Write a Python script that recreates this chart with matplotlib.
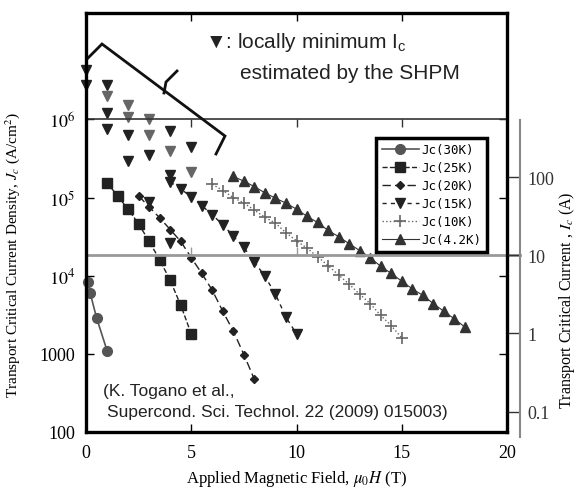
import numpy as np
import matplotlib
matplotlib.use('Agg')
import matplotlib.pyplot as plt

plt.rcParams['mathtext.fontset'] = 'stix'
serif = 'Liberation Serif'
sans = ['Liberation Sans', 'DejaVu Sans']

# values: field (T) and Jc (A/cm2)
b30 = [0.1, 0.2, 0.5, 1.0]
jc30 = [8300, 6000, 2900, 1100]

b25 = [1.0, 1.5, 2.0, 2.5, 3.0, 3.5, 4.0, 4.5, 5.0]
jc25 = [1.55e5, 1.05e5, 7.1e4, 4.6e4, 2.75e4, 1.6e4, 8.7e3, 4.2e3, 1.8e3]

b20 = [2.5, 3.0, 3.5, 4.0, 4.5, 5.0, 5.5, 6.0, 6.5, 7.0, 7.5, 8.0]
jc20 = [1.05e5, 7.6e4, 5.5e4, 3.9e4, 2.75e4, 1.7e4, 1.07e4, 6.5e3, 3.5e3, 1.95e3, 980, 470]

b15 = [4.0, 4.5, 5.0, 5.5, 6.0, 6.5, 7.0, 7.5, 8.0, 8.5, 9.0, 9.5, 10.0]
jc15 = [1.58e5, 1.29e5, 1.02e5, 7.9e4, 6.0e4, 4.5e4, 3.2e4, 2.3e4, 1.5e4, 9.8e3, 5.8e3, 2.95e3, 1.8e3]

b10 = [6.0, 6.5, 7.0, 7.5, 8.0, 8.5, 9.0, 9.5, 10.0, 10.5, 11.0, 11.5, 12.0, 12.5,
       13.0, 13.5, 14.0, 14.5, 15.0]
jc10 = [1.48e5, 1.23e5, 1.0e5, 8.5e4, 6.9e4, 5.6e4, 4.7e4, 3.55e4, 2.8e4, 2.25e4, 1.75e4,
        1.35e4, 1.02e4, 7.8e3, 5.8e3, 4.4e3, 3.1e3, 2.3e3, 1.6e3]

b4 = [7.0, 7.5, 8.0, 8.5, 9.0, 9.5, 10.0, 10.5, 11.0, 11.5, 12.0, 12.5, 13.0, 13.5,
      14.0, 14.5, 15.0, 15.5, 16.0, 16.5, 17.0, 17.5, 18.0]
jc4 = [1.86e5, 1.62e5, 1.38e5, 1.15e5, 9.8e4, 8.5e4, 7.1e4, 5.75e4, 4.8e4, 3.8e4, 3.16e4,
       2.57e4, 2.1e4, 1.7e4, 1.32e4, 1.07e4, 8.5e3, 6.8e3, 5.6e3, 4.4e3, 3.5e3, 2.8e3, 2.2e3]

# locally minimum Ic (SHPM), dark and grey triangles
bmin_dark = [0, 0, 1, 1, 1, 2, 2, 3, 3, 4, 4, 4, 5]
jmin_dark = [4.3e6, 2.75e6, 2.75e6, 1.2e6, 7.6e5, 6.3e5, 2.9e5, 3.5e5, 8.7e4, 7.1e5, 1.95e5, 2.6e4, 4.5e5]
bmin_grey = [1, 2, 2, 3, 3, 4, 5]
jmin_grey = [2.0e6, 1.55e6, 1.07e6, 1.0e6, 6.3e5, 3.9e5, 2.1e5]

jc_per_amp = 1860.0   # Jc / Ic conversion of the right axis
ytick_vals = [100, 1000, 1e4, 1e5, 1e6]
ytick_text = ['100', '1000', r'$10^4$', r'$10^5$', r'$10^6$']
ic_ticks = [0.1, 1, 10, 100]
ic_text = ['0.1', '1', '10', '100']

W, H = 584, 489
fig = plt.figure(figsize=(W / 100, H / 100), dpi=100)
L, R, T, B = 86, 507, 14, 433
ax = fig.add_axes([L / W, 1 - B / H, (R - L) / W, (B - T) / H])
ymin, ymax = 100, 2.3e7
ax.set_yscale('log')
ax.set_xlim(0, 20)
ax.set_ylim(ymin, ymax)

ax.plot(b30, jc30, '-', color='#555555', lw=1.2, marker='o', ms=7, label='Jc(30K)', clip_on=False)
ax.plot(b25, jc25, '--', color='#222222', lw=1, marker='s', ms=7.5, label='Jc(25K)')
ax.plot(b20, jc20, '--', color='#222222', lw=1, dashes=(6, 3), marker='D', ms=4.5, label='Jc(20K)')
ax.plot(b15, jc15, '--', color='#222222', lw=1, dashes=(3, 3), marker='v', ms=6.5, label='Jc(15K)')
ax.plot(b10, jc10, ':', color='#666666', lw=1, marker='+', ms=8, mew=1.2, label='Jc(10K)')
ax.plot(b4, jc4, '-', color='#333333', lw=0.8, marker='^', ms=6.5, label='Jc(4.2K)')
ax.plot(bmin_dark, jmin_dark, 'v', color='#222222', ms=7, clip_on=False)
ax.plot(bmin_grey, jmin_grey, 'v', color='#666666', ms=7, clip_on=False)

# reference lines at 1e6 and at Ic = 10 A
ax.axhline(1e6, color='#333333', lw=1.2)
ax.axhline(10 * jc_per_amp, xmax=(520 - L) / (R - L), color='#999999', lw=2, clip_on=False)
xt = [5, 10, 15]
ax.plot(xt, [1e6] * 3, ls='none', marker=3, ms=6, mew=1, color='#333333')
ax.plot(xt, [10 * jc_per_amp] * 3, ls='none', marker=2, ms=6, mew=1, color='#999999')

for s in ax.spines.values():
    s.set_linewidth(2.4)
ax.set_xticks([0, 5, 10, 15, 20])
ax.set_yticks(ytick_vals, ytick_text)
ax.minorticks_off()
ax.tick_params(direction='in', length=6, width=1, top=True, right=True, labelsize=13, pad=8)
for lab in ax.get_xticklabels() + ax.get_yticklabels():
    lab.set_family(serif)
ax.tick_params(axis='x', pad=9)

ax.set_xlabel(r'Applied Magnetic Field, $\mu_0H$ (T)', family=serif, fontsize=12)
ax.xaxis.set_label_coords(0.5, -0.085)
ax.set_ylabel(r'Transport Critical Current Density, $J_c$ (A/cm$^2$)', family=serif, fontsize=11)
ax.yaxis.set_label_coords(-0.152, 0.425)

leg = ax.legend(loc='upper left', bbox_to_anchor=(0.689, 0.702), prop={'family': 'DejaVu Sans Mono', 'size': 9},
                frameon=True, fancybox=False, edgecolor='black', framealpha=1, handlelength=3.0,
                handletextpad=0.2, labelspacing=0.4, borderpad=0.45, borderaxespad=0)
leg.get_frame().set_linewidth(2.5)

# bracket around the SHPM points
bx = [(87, 60), (102, 45), (225, 137), (216, 155)]
sx = [(164, 94), (166, 83), (177, 72)]
for pts in (bx, sx):
    xs = [(p[0] - L) / (R - L) for p in pts]
    ys = [(B - p[1]) / (B - T) for p in pts]
    ax.plot(xs, ys, color='#111111', lw=2, transform=ax.transAxes, clip_on=False, solid_joinstyle='miter')

ax.text(0.283, 0.931, '\u25bc: locally minimum $\\mathregular{I_c}$', transform=ax.transAxes,
        family=sans, fontsize=15, va='center', ha='left', color='#222222')
ax.text(0.366, 0.859, 'estimated by the SHPM', transform=ax.transAxes,
        family=sans, fontsize=15, va='center', ha='left', color='#222222')
ax.text(0.040, 0.098, '(K. Togano et al.,', transform=ax.transAxes, family=sans, fontsize=12.5,
        va='center', ha='left', color='#222222')
ax.text(0.050, 0.050, 'Supercond. Sci. Technol. 22 (2009) 015003)', transform=ax.transAxes,
        family=sans, fontsize=12.5, va='center', ha='left', color='#222222')

# right-hand Ic axis
top_px, bot_px = 121, 438
px_per_dec = (B - T) / np.log10(ymax / ymin)
ic_top = 1e6 / jc_per_amp
ic_bot = ic_top / 10 ** ((bot_px - top_px) / px_per_dec)
ax2 = fig.add_axes([R / W, 1 - bot_px / H, (520 - R) / W, (bot_px - top_px) / H])
ax2.patch.set_visible(False)
for k in ('top', 'bottom', 'left'):
    ax2.spines[k].set_visible(False)
ax2.spines['right'].set_color('#888888')
ax2.spines['right'].set_linewidth(1.5)
ax2.set_xticks([])
ax2.set_yscale('log')
ax2.set_ylim(ic_bot, ic_top)
ax2.yaxis.tick_right()
ax2.set_yticks(ic_ticks, ic_text)
ax2.minorticks_off()
ax2.tick_params(axis='y', direction='in', length=9, width=1, colors='#333333', labelsize=13, pad=5)
for lab in ax2.get_yticklabels():
    lab.set_family(serif)
fig.text(567 / W, 1 - 300 / H, r'Transport Critical Current , $I_c$ (A)', rotation=90,
         family=serif, fontsize=11.5, ha='center', va='center')

fig.savefig('out.png', dpi=100)
